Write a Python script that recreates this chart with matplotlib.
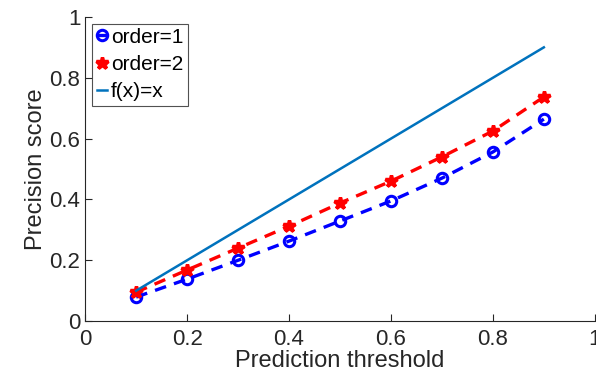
import matplotlib.pyplot as plt

# Valores
thresholds = [0.1, 0.2, 0.3, 0.4, 0.5, 0.6, 0.7, 0.8, 0.9]
prec_order1 = [0.079, 0.138, 0.200, 0.263, 0.329, 0.395, 0.470, 0.556, 0.664]
prec_order2 = [0.095, 0.168, 0.240, 0.312, 0.388, 0.460, 0.540, 0.625, 0.737]
ticks = [0, 0.2, 0.4, 0.6, 0.8, 1]
tick_labels = ['0', '0.2', '0.4', '0.6', '0.8', '1']

plt.rcParams['font.family'] = ['Liberation Sans', 'DejaVu Sans']

fig = plt.figure(figsize=(5.96, 3.85), dpi=100)
ax = fig.add_axes([0.143, 0.166, 0.855, 0.79])

ax.plot(thresholds, prec_order1, '--o', color='blue', linewidth=2.4, dashes=(3.5, 2.5),
        markersize=7.5, markerfacecolor='none', markeredgewidth=2.2, label='order=1')
ax.plot(thresholds, prec_order2, '--*', color='red', linewidth=2.4, dashes=(3.5, 2.5),
        markersize=9, markeredgewidth=2.5, label='order=2')
ax.plot(thresholds, thresholds, '-', color='#0072BD', linewidth=1.8, label='f(x)=x')

ax.set_xlim(0, 1)
ax.set_ylim(0, 1)
ax.set_xticks(ticks)
ax.set_xticklabels(tick_labels)
ax.set_yticks(ticks)
ax.set_yticklabels(tick_labels)
ax.tick_params(direction='in', labelsize=16, colors='#262626', length=5)
ax.tick_params(axis='x', pad=6)
for s in ['top', 'right']:
    ax.spines[s].set_visible(False)
for s in ['left', 'bottom']:
    ax.spines[s].set_color('#262626')

ax.set_xlabel('Prediction threshold', fontsize=17, color='#262626', labelpad=0)
ax.set_ylabel('Precision score', fontsize=17, color='#262626', labelpad=2)

leg = ax.legend(loc='upper left', bbox_to_anchor=(0.01, 0.985), fontsize=15,
                frameon=True, fancybox=False, handlelength=0.5, handletextpad=0.2,
                borderpad=0.2, labelspacing=0.4, borderaxespad=0.1)
leg.get_frame().set_edgecolor('#262626')
leg.get_frame().set_linewidth(0.8)

fig.savefig('out.png', dpi=100)
